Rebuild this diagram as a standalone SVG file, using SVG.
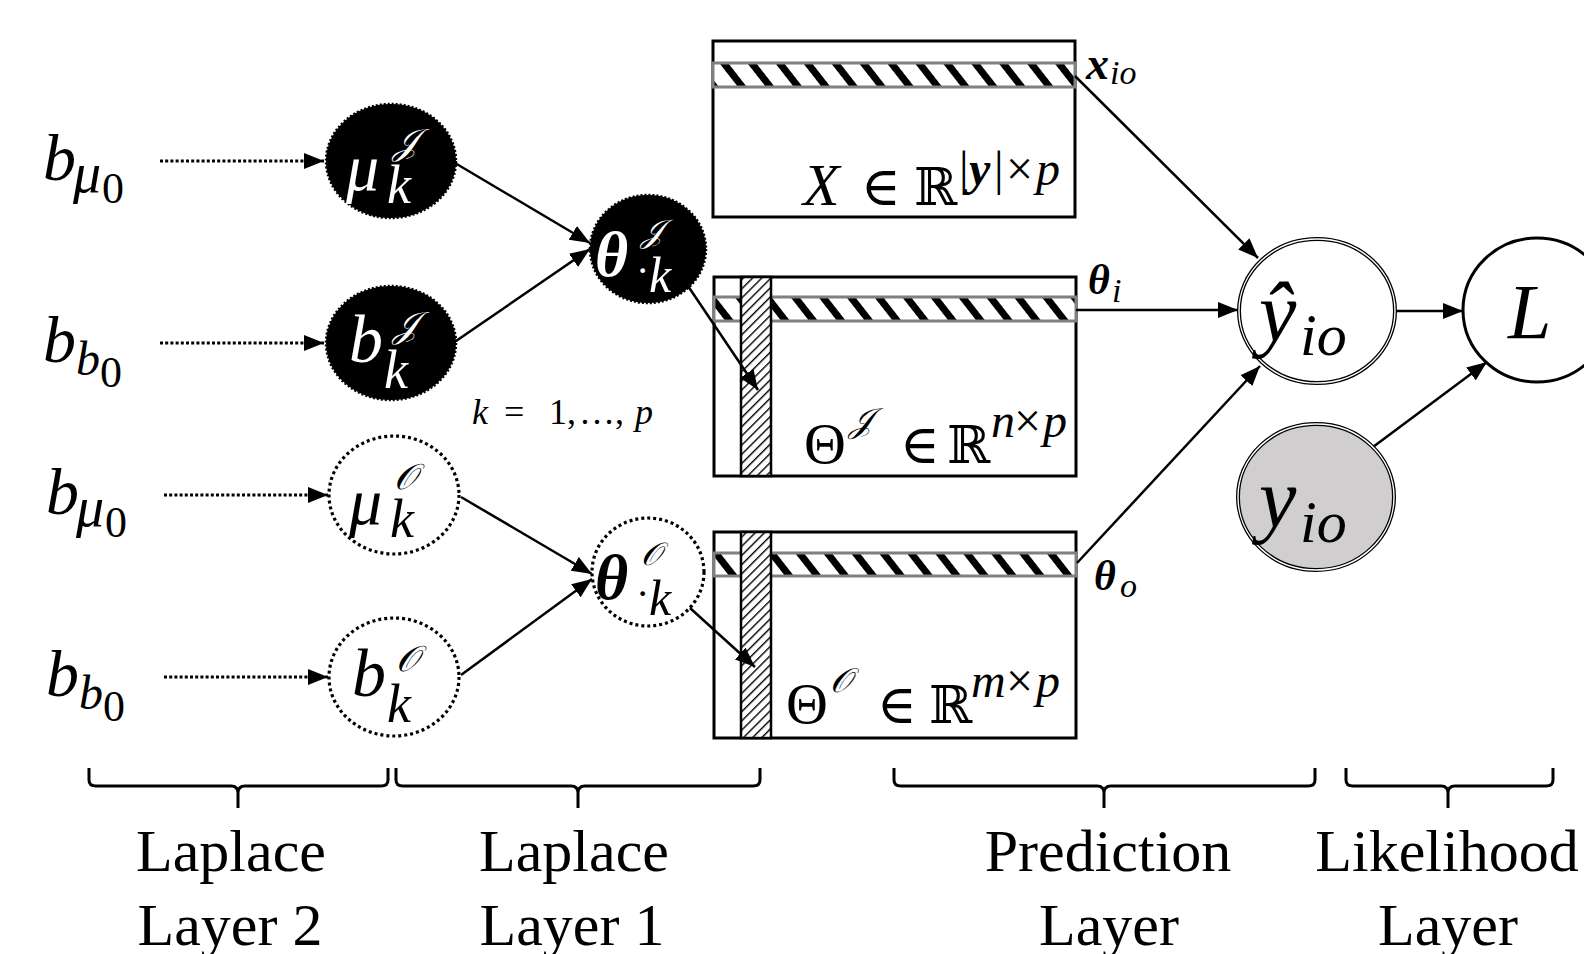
<svg xmlns="http://www.w3.org/2000/svg" width="1584" height="954" viewBox="0 0 1584 954">
<style>
.m{font-family:"Liberation Serif","DejaVu Serif",serif;font-style:italic}
.u{font-family:"Liberation Serif","DejaVu Serif",serif;font-style:normal}
.bi{font-family:"Liberation Serif","DejaVu Serif",serif;font-style:italic;font-weight:bold}
.w{fill:#fff}
.lbl{font-family:"Liberation Serif","Times New Roman",serif;font-size:60px;text-anchor:middle}
.con{stroke:#000;stroke-width:2.5;fill:none}
.dot{stroke:#000;stroke-width:3;fill:none;stroke-dasharray:3 2.2}
.blk{fill:#000;stroke:#000;stroke-width:2.5;stroke-dasharray:2 2}
.wd{fill:#fff;stroke:#000;stroke-width:3.2;stroke-dasharray:3 3}
.mat{fill:#fff;stroke:#000;stroke-width:3}
.row{fill:url(#rowp);stroke:#808080;stroke-width:3}
.col{fill:url(#colp);stroke:#000;stroke-width:2.5}
.brace{stroke:#000;stroke-width:3;fill:none}
</style>
<defs>
<marker id="ah" markerWidth="20" markerHeight="16" refX="20" refY="8" orient="auto" markerUnits="userSpaceOnUse"><path d="M0,0 L20,8 L0,16 Z" fill="#000"/></marker>
<pattern id="rowp" patternUnits="userSpaceOnUse" width="22" height="22" patternTransform="rotate(-38)"><rect width="22" height="22" fill="#fff"/><rect width="7" height="22" fill="#000"/></pattern>
<pattern id="colp" patternUnits="userSpaceOnUse" width="6.5" height="6.5" patternTransform="rotate(45)"><rect width="6.5" height="6.5" fill="#fff"/><rect width="1.4" height="6.5" fill="#000"/></pattern>
</defs>
<rect width="1584" height="954" fill="#fff"/>

<g id="connectors">
<line class="dot" x1="160" y1="161" x2="324" y2="161" marker-end="url(#ah)"/>
<line class="dot" x1="160" y1="343" x2="324" y2="343" marker-end="url(#ah)"/>
<line class="dot" x1="164" y1="495" x2="328" y2="495" marker-end="url(#ah)"/>
<line class="dot" x1="164" y1="677" x2="328" y2="677" marker-end="url(#ah)"/>
<line class="con" x1="455" y1="163" x2="590" y2="243" marker-end="url(#ah)"/>
<line class="con" x1="456" y1="341" x2="590" y2="249" marker-end="url(#ah)"/>
<line class="con" x1="461" y1="497" x2="592" y2="574" marker-end="url(#ah)"/>
<line class="con" x1="461" y1="675" x2="592" y2="579" marker-end="url(#ah)"/>
</g>

<g id="bmu0_1"><text class="m" x="43" y="180" font-size="66">b</text><text class="m" x="73" y="192" font-size="56">μ</text><text class="u" x="102" y="203" font-size="44">0</text></g>
<g id="bb0_1"><text class="m" x="43" y="362" font-size="66">b</text><text class="m" x="76" y="375" font-size="48">b</text><text class="u" x="100" y="387" font-size="44">0</text></g>
<g id="bmu0_2"><text class="m" x="46" y="514" font-size="66">b</text><text class="m" x="76" y="526" font-size="56">μ</text><text class="u" x="105" y="537" font-size="44">0</text></g>
<g id="bb0_2"><text class="m" x="46" y="696" font-size="66">b</text><text class="m" x="79" y="709" font-size="48">b</text><text class="u" x="103" y="721" font-size="44">0</text></g>

<g id="muJ"><ellipse class="blk" cx="391" cy="161" rx="65" ry="57"/><text class="m w" x="346" y="190" font-size="66">μ</text><text class="m w" x="387" y="203" font-size="54">k</text><text class="m w" x="393" y="154" font-size="36">𝒥</text></g>
<g id="bJ"><ellipse class="blk" cx="391" cy="343" rx="65" ry="57"/><text class="m w" x="349" y="362" font-size="68">b</text><text class="m w" x="384" y="388" font-size="54">k</text><text class="m w" x="393" y="337" font-size="36">𝒥</text></g>
<g id="muO"><ellipse class="wd" cx="394" cy="495" rx="65" ry="59"/><text class="m" x="349" y="524" font-size="66">μ</text><text class="m" x="390" y="537" font-size="54">k</text><text class="m" x="394" y="489" font-size="36">𝒪</text></g>
<g id="bO"><ellipse class="wd" cx="394" cy="677" rx="65" ry="59"/><text class="m" x="352" y="696" font-size="68">b</text><text class="m" x="387" y="722" font-size="54">k</text><text class="m" x="396" y="671" font-size="36">𝒪</text></g>

<g id="thetaJ"><ellipse class="blk" cx="648" cy="249" rx="58" ry="54"/><text class="bi w" x="595" y="276" font-size="64">θ</text><text class="m w" x="641" y="242" font-size="32">𝒥</text><text class="u w" x="636" y="284" font-size="40">·</text><text class="m w" x="649" y="292" font-size="50">k</text></g>
<g id="thetaO"><ellipse class="wd" cx="648" cy="572" rx="56" ry="54"/><text class="bi" x="595" y="599" font-size="64">θ</text><text class="m" x="641" y="565" font-size="32">𝒪</text><text class="u" x="636" y="607" font-size="40">·</text><text class="m" x="649" y="615" font-size="50">k</text></g>

<text class="m" font-size="36" y="424"><tspan x="472">k</tspan><tspan class="u" x="504">=</tspan><tspan class="u" x="549">1,</tspan><tspan class="u" x="579">…,</tspan><tspan x="635">p</tspan></text>

<g id="matX">
<rect class="mat" x="713" y="41" width="362" height="176"/>
<rect class="row" x="713" y="63" width="362" height="24"/>
<text class="m" x="803" y="205" font-size="60">X</text><text class="u" x="861" y="205" font-size="54">∈</text><text class="u" x="914" y="205" font-size="52">ℝ</text>
<text class="u" font-size="48" y="185"><tspan x="959">|</tspan><tspan class="bi" x="969">y</tspan><tspan x="994">|</tspan><tspan x="1006">×</tspan><tspan class="m" x="1036">p</tspan></text>
<text class="bi" x="1086" y="79" font-size="46">x</text><text class="m" x="1110" y="84" font-size="34">io</text>
</g>

<g id="matThetaJ">
<rect class="mat" x="714" y="277" width="362" height="199"/>
<rect class="row" x="714" y="297" width="362" height="24"/>
<rect class="col" x="741" y="277" width="30" height="199"/>
<text class="u" x="804" y="463" font-size="58">Θ</text><text class="m" x="849" y="432" font-size="34">𝒥</text><text class="u" x="900" y="463" font-size="54">∈</text><text class="u" x="947" y="463" font-size="52">ℝ</text>
<text class="m" font-size="48" y="437"><tspan x="991">n</tspan><tspan class="u" x="1014">×</tspan><tspan x="1043">p</tspan></text>
<text class="bi" x="1088" y="294" font-size="42">θ</text><text class="m" x="1112" y="302" font-size="34">i</text>
</g>

<g id="matThetaO">
<rect class="mat" x="714" y="532" width="362" height="206"/>
<rect class="row" x="714" y="553" width="362" height="23"/>
<rect class="col" x="741" y="532" width="30" height="206"/>
<text class="u" x="786" y="723" font-size="58">Θ</text><text class="m" x="830" y="692" font-size="34">𝒪</text><text class="u" x="877" y="723" font-size="54">∈</text><text class="u" x="929" y="723" font-size="52">ℝ</text>
<text class="m" font-size="48" y="697"><tspan x="971">m</tspan><tspan class="u" x="1006">×</tspan><tspan x="1036">p</tspan></text>
<text class="bi" x="1094" y="590" font-size="42">θ</text><text class="m" x="1120" y="597" font-size="34">o</text>
</g>

<g id="connectors2">
<line class="con" x1="688" y1="286" x2="758" y2="390" marker-end="url(#ah)"/>
<line class="con" x1="690" y1="608" x2="755" y2="667" marker-end="url(#ah)"/>
<line class="con" x1="1075" y1="76" x2="1258" y2="258" marker-end="url(#ah)"/>
<line class="con" x1="1076" y1="310" x2="1238" y2="310" marker-end="url(#ah)"/>
<line class="con" x1="1077" y1="563" x2="1260" y2="366" marker-end="url(#ah)"/>
<line class="con" x1="1395" y1="311" x2="1463" y2="311" marker-end="url(#ah)"/>
<line class="con" x1="1373" y1="447" x2="1487" y2="362" marker-end="url(#ah)"/>
</g>

<g id="yhat"><ellipse cx="1317" cy="311" rx="78" ry="72" fill="#fff" stroke="#000" stroke-width="4"/><ellipse cx="1317" cy="311" rx="78" ry="72" fill="none" stroke="#fff" stroke-width="1.4"/><text class="m" x="1259" y="341" font-size="84">ŷ</text><text class="m" x="1300" y="355" font-size="60">io</text></g>
<g id="yobs"><ellipse cx="1316" cy="497" rx="78" ry="73" fill="#d0cece" stroke="#000" stroke-width="4"/><ellipse cx="1316" cy="497" rx="78" ry="73" fill="none" stroke="#fff" stroke-width="1.4"/><text class="m" x="1259" y="527" font-size="84">y</text><text class="m" x="1300" y="542" font-size="60">io</text></g>
<g id="L"><ellipse cx="1537" cy="310" rx="74" ry="72" fill="#fff" stroke="#000" stroke-width="3"/><text class="m" x="1508" y="338" font-size="78">L</text></g>

<g id="braces">
<path class="brace" d="M89,768 L89,780 Q89,786 96,786 L231,786 Q238,786 238,793 L238,808 M238,793 Q238,786 245,786 L381,786 Q388,786 388,780 L388,768"/>
<path class="brace" d="M396,768 L396,780 Q396,786 403,786 L571,786 Q578,786 578,793 L578,808 M578,793 Q578,786 585,786 L753,786 Q760,786 760,780 L760,768"/>
<path class="brace" d="M894,768 L894,780 Q894,786 901,786 L1097,786 Q1104,786 1104,793 L1104,808 M1104,793 Q1104,786 1111,786 L1308,786 Q1315,786 1315,780 L1315,768"/>
<path class="brace" d="M1346,768 L1346,780 Q1346,786 1353,786 L1441,786 Q1448,786 1448,793 L1448,808 M1448,793 Q1448,786 1455,786 L1546,786 Q1553,786 1553,780 L1553,768"/>
</g>
<g id="labels">
<text class="lbl" x="231" y="871">Laplace</text><text class="lbl" x="230" y="945">Layer 2</text>
<text class="lbl" x="574" y="871">Laplace</text><text class="lbl" x="572" y="945">Layer 1</text>
<text class="lbl" x="1108" y="871">Prediction</text><text class="lbl" x="1109" y="945">Layer</text>
<text class="lbl" x="1447" y="871">Likelihood</text><text class="lbl" x="1448" y="945">Layer</text>
</g>
</svg>
